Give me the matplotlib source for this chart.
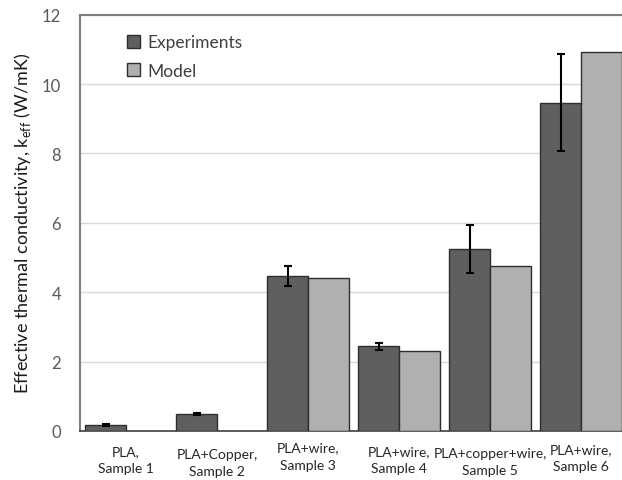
import numpy as np
import matplotlib
matplotlib.use("Agg")
import matplotlib.pyplot as plt

plt.rcParams["font.family"] = ["Lato", "DejaVu Sans"]

# Sample groups and measured / modelled effective conductivity (W/mK)
samples = ["PLA,\nSample 1", "PLA+Copper,\nSample 2", "PLA+wire,\nSample 3",
           "PLA+wire,\nSample 4", "PLA+copper+wire,\nSample 5", "PLA+wire,\nSample 6"]
k_exp = [0.17, 0.49, 4.47, 2.44, 5.24, 9.46]
k_exp_err = [0.03, 0.03, 0.30, 0.10, 0.70, 1.40]
k_model = [0.0, 0.0, 4.42, 2.32, 4.75, 10.93]

EXP_COLOR = "#5f5f5f"
MODEL_COLOR = "#b0b0b0"
EDGE = "#2e2e2e"

fig = plt.figure(figsize=(6.22, 4.81), dpi=100)
ax = fig.add_axes([0.1294, 0.1019, 0.8706, 0.8655])

x = np.arange(len(samples))
w = 0.45

ax.bar(x - w / 2, k_exp, w, color=EXP_COLOR, edgecolor=EDGE, linewidth=1.0,
       label="Experiments", zorder=3)
mask = np.array(k_model) > 0
ax.bar(x[mask] + w / 2, np.array(k_model)[mask], w, color=MODEL_COLOR,
       edgecolor=EDGE, linewidth=1.0, label="Model", zorder=3)
ax.errorbar(x - w / 2, k_exp, yerr=k_exp_err, fmt="none", ecolor="black",
            elinewidth=1.5, capsize=3, capthick=1.5, zorder=4)

ax.set_xlim(-0.5, 5.45)
ax.set_ylim(0, 12)
ax.set_yticks(range(0, 13, 2))
ax.set_xticks(x)
ax.set_xticklabels([])
ax.tick_params(axis="y", labelsize=12, colors="#595959", length=0, pad=14)
ax.tick_params(axis="x", length=0)

# category labels, staggered slightly like the original spreadsheet output
drop = [9.9, 12, 7.3, 10, 11.5, 8.5]
for xi, lab, d in zip(x, samples, drop):
    ax.annotate(lab, xy=(xi, 0), xycoords=("data", "axes fraction"),
                xytext=(0, -d), textcoords="offset points",
                ha="center", va="top", multialignment="center",
                fontsize=10, color="#262626", linespacing=1.55,
                annotation_clip=False)

ax.grid(axis="y", color="#d9d9d9", linewidth=1.0, zorder=0)
ax.set_axisbelow(True)

ax.spines["right"].set_visible(False)
ax.spines["top"].set_color("#7f7f7f")
ax.spines["top"].set_linewidth(1.5)
ax.spines["left"].set_color("#7f7f7f")
ax.spines["left"].set_linewidth(1.5)
ax.spines["bottom"].set_color("#404040")
ax.spines["bottom"].set_linewidth(1.2)

ax.set_ylabel("Effective thermal conductivity, k$_{\\mathregular{eff}}$ (W/mK)",
              fontsize=13, color="#1a1a1a", labelpad=6)

leg = ax.legend(loc="upper left", bbox_to_anchor=(0.057, 0.99), frameon=False,
                fontsize=12.5, handlelength=0.75, handleheight=0.75,
                handletextpad=0.4, labelspacing=0.7, labelcolor="#404040")

fig.savefig("out.png", dpi=100)
